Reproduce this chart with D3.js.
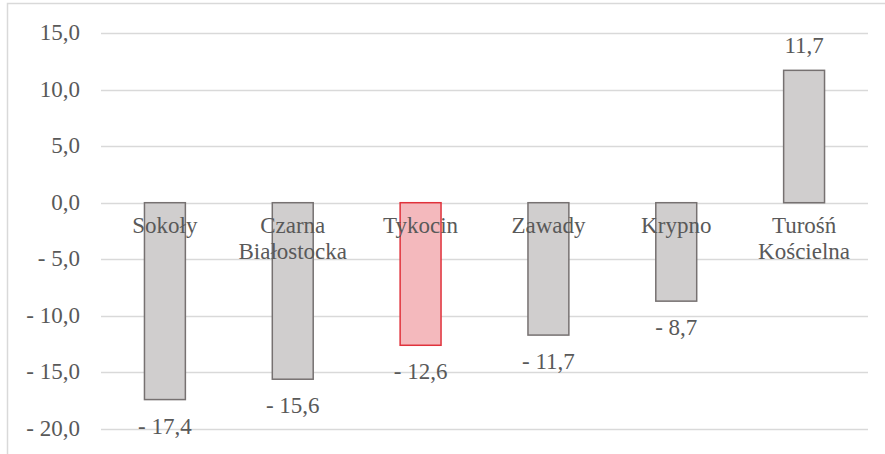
<!DOCTYPE html>
<html>
<head>
<meta charset="utf-8">
<script src="https://cdn.jsdelivr.net/npm/d3@7"></script>
</head>
<body style="margin:0">
<svg id="chart" width="885" height="454"></svg>
<script>
// Data
const categories = ["Sokoły", "Czarna Białostocka", "Tykocin", "Zawady", "Krypno", "Turośń Kościelna"];
const values = [-17.4, -15.6, -12.6, -11.7, -8.7, 11.7];
const highlighted = ["Tykocin"];
const yTicks = [15, 10, 5, 0, -5, -10, -15, -20];

const FONT = "'Liberation Serif'";
const FONT_SIZE = 23;
const TEXT_COLOR = "#595959";

function fmt(v) {
    const s = Math.abs(v).toFixed(1).replace(".", ",");
    return v < 0 ? "- " + s : s;
}

const svg = d3.select("#chart");

// outer frame
svg.append("rect")
    .attr("x", 7.5).attr("y", 3.5)
    .attr("width", 890).attr("height", 460)
    .attr("fill", "none")
    .attr("stroke", "#d9d9d9")
    .attr("stroke-width", 1.5);

const x = d3.scaleBand()
    .domain(categories)
    .range([101, 868])
    .paddingInner(0.68)
    .paddingOuter(0.34);

const y = d3.scaleLinear()
    .domain([-20, 15])
    .range([429, 33]);

// gridlines
svg.append("g")
    .selectAll("line")
    .data(yTicks)
    .enter().append("line")
    .attr("x1", 101).attr("x2", 868)
    .attr("y1", d => Math.round(y(d)) + 0.5)
    .attr("y2", d => Math.round(y(d)) + 0.5)
    .attr("stroke", "#d9d9d9")
    .attr("stroke-width", 1.5);

// y axis labels, drawn as plain text at the scale's positions
svg.append("g")
    .selectAll("text")
    .data(yTicks)
    .enter().append("text")
    .attr("x", 80)
    .attr("y", d => y(d) + 7)
    .attr("text-anchor", "end")
    .attr("font-size", FONT_SIZE)
    .attr("fill", TEXT_COLOR)
    .style("font-family", FONT)
    .text(fmt);

// bars
const rows = categories.map((c, i) => ({ name: c, value: values[i] }));

svg.append("g")
    .selectAll("rect")
    .data(rows)
    .enter().append("rect")
    .attr("x", d => x(d.name))
    .attr("width", x.bandwidth())
    .attr("y", d => y(Math.max(0, d.value)))
    .attr("height", d => Math.abs(y(d.value) - y(0)))
    .attr("fill", d => highlighted.includes(d.name) ? "#f4b9bd" : "#d0cece")
    .attr("stroke", d => highlighted.includes(d.name) ? "#e0323c" : "#767171")
    .attr("stroke-width", 1.5);

// category labels (just below zero line), one text per line
const catLines = [];
rows.forEach(d => {
    d.name.split(" ").forEach((w, i) => catLines.push({ name: d.name, word: w, line: i }));
});
svg.append("g")
    .selectAll("text")
    .data(catLines)
    .enter().append("text")
    .attr("x", d => x(d.name) + x.bandwidth() / 2)
    .attr("y", d => y(0) + 30 + d.line * 26)
    .attr("text-anchor", "middle")
    .attr("font-size", FONT_SIZE)
    .attr("fill", TEXT_COLOR)
    .style("font-family", FONT)
    .text(d => d.word);

// value labels
svg.append("g")
    .selectAll("text")
    .data(rows)
    .enter().append("text")
    .attr("text-anchor", "middle")
    .attr("font-size", FONT_SIZE)
    .attr("fill", TEXT_COLOR)
    .style("font-family", FONT)
    .attr("x", d => x(d.name) + x.bandwidth() / 2)
    .attr("y", d => d.value < 0 ? y(d.value) + 34 : y(d.value) - 17)
    .text(d => fmt(d.value));
</script>
</body>
</html>
